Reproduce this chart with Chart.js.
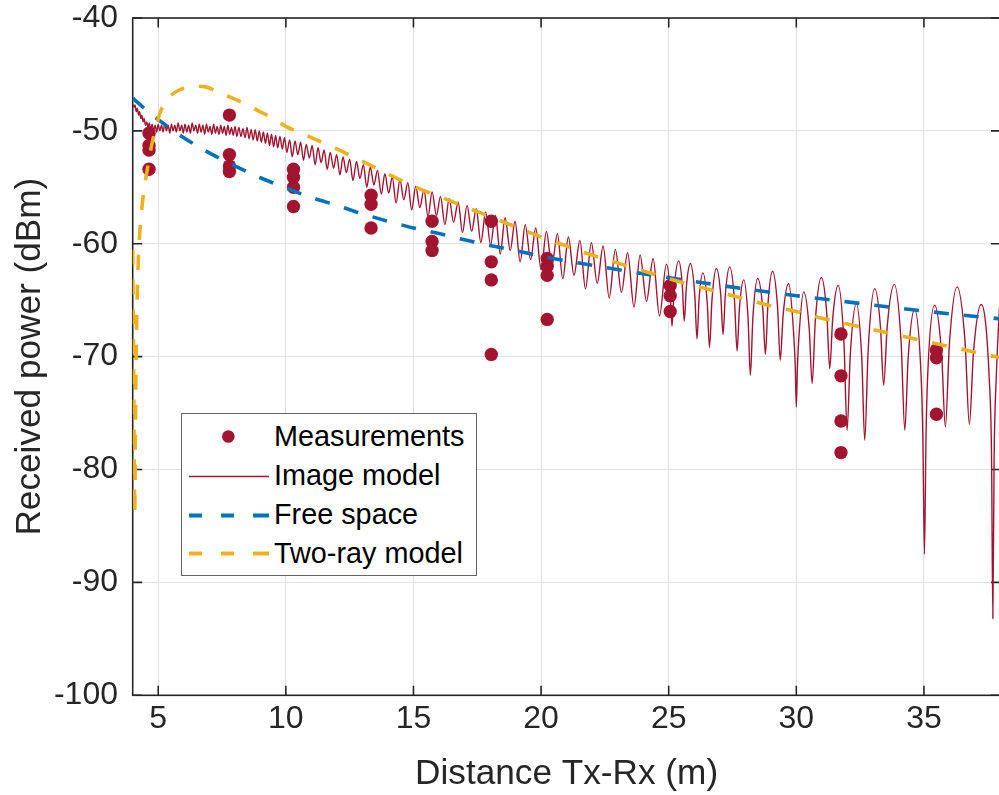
<!DOCTYPE html>
<html>
<head>
<meta charset="utf-8">
<script src="https://cdn.jsdelivr.net/npm/chart.js@4.4.1/dist/chart.umd.min.js"></script>
<style>
  html, body { margin: 0; padding: 0; background: #fff; overflow: hidden; width: 999px; height: 795px; }
  #wrap { position: absolute; left: 0; top: 0; width: 1002px; height: 795px; }
  #legend {
    position: absolute; left: 181px; top: 413px; width: 296px; height: 163px;
    box-sizing: border-box; border: 1px solid #666; background: #fff;
    font-family: "Liberation Sans", Arial, sans-serif; font-size: 28.8px; color: #000;
  }
  #legend .row { position: absolute; left: 0; width: 290px; height: 39px; }
  #legend .row svg { position: absolute; left: 0; top: 0; }
  #legend .row span { position: absolute; left: 92px; top: 0; line-height: 39px; white-space: nowrap; }
</style>
</head>
<body>
<div id="wrap"><canvas id="c" width="1002" height="795"></canvas></div>
<div id="legend">
  <div class="row" style="top:3.2px">
    <svg width="92" height="39"><circle cx="46.3" cy="19.5" r="6.3" fill="#A2142F"/></svg>
    <span>Measurements</span>
  </div>
  <div class="row" style="top:41.5px">
    <svg width="92" height="39"><line x1="7" y1="20.5" x2="87" y2="20.5" stroke="#A2142F" stroke-width="1.4"/></svg>
    <span>Image model</span>
  </div>
  <div class="row" style="top:80.5px">
    <svg width="92" height="39">
      <line x1="7" y1="20.5" x2="20" y2="20.5" stroke="#0072BD" stroke-width="4"/>
      <line x1="39" y1="20.5" x2="52" y2="20.5" stroke="#0072BD" stroke-width="4"/>
      <line x1="71" y1="20.5" x2="87" y2="20.5" stroke="#0072BD" stroke-width="4"/>
    </svg>
    <span>Free space</span>
  </div>
  <div class="row" style="top:119.8px">
    <svg width="92" height="39">
      <line x1="7" y1="19.5" x2="20" y2="19.5" stroke="#EDB120" stroke-width="4"/>
      <line x1="39" y1="19.5" x2="52" y2="19.5" stroke="#EDB120" stroke-width="4"/>
      <line x1="71" y1="19.5" x2="87" y2="19.5" stroke="#EDB120" stroke-width="4"/>
    </svg>
    <span>Two-ray model</span>
  </div>
</div>
<script>
// Axis ticks
const xTicks = [5, 10, 15, 20, 25, 30, 35];
const yTicks = [-100, -90, -80, -70, -60, -50, -40];

// Measured received power (dBm) at each Tx-Rx distance (m)
const measX = [4.64, 4.64, 4.64, 4.64,
               7.79, 7.79, 7.79, 7.79,
               10.30, 10.30, 10.30, 10.30,
               13.34, 13.34, 13.34,
               15.73, 15.73, 15.73,
               18.05, 18.05, 18.05, 18.05,
               20.24, 20.24, 20.24, 20.24,
               25.06, 25.06, 25.06,
               31.75, 31.75, 31.75, 31.75,
               35.49, 35.49, 35.49];
const measY = [-50.2, -51.3, -51.7, -53.4,
               -48.6, -52.1, -53.1, -53.6,
               -53.4, -54.1, -55.0, -56.7,
               -55.7, -56.5, -58.6,
               -58.0, -59.8, -60.6,
               -58.0, -61.6, -63.2, -69.8,
               -61.3, -62.0, -62.8, -66.7,
               -63.7, -64.6, -66.0,
               -68.0, -71.7, -75.7, -78.5,
               -69.4, -70.1, -75.1];

// Image model: received power along the path
const imgX = [
  4.00, 4.05, 4.09, 4.14, 4.18, 4.23, 4.27, 4.32, 4.36, 4.41, 4.45, 4.50, 4.55, 4.60, 4.65, 4.70,
  4.76, 4.82, 4.88, 4.94, 5.00, 5.06, 5.13, 5.19, 5.26, 5.32, 5.39, 5.45, 5.52, 5.58, 5.65, 5.71,
  5.78, 5.85, 5.92, 5.98, 6.05, 6.12, 6.19, 6.26, 6.33, 6.40, 6.47, 6.54, 6.61, 6.68, 6.75, 6.82,
  6.89, 6.96, 7.03, 7.10, 7.17, 7.24, 7.31, 7.38, 7.45, 7.52, 7.59, 7.66, 7.73, 7.80, 7.87, 7.94,
  8.01, 8.08, 8.16, 8.24, 8.32, 8.40, 8.48, 8.56, 8.64, 8.72, 8.80, 8.88, 8.96, 9.04, 9.12, 9.20,
  9.28, 9.36, 9.44, 9.52, 9.60, 9.68, 9.77, 9.86, 9.95,
  10.04, 10.15, 10.25, 10.36, 10.47, 10.58, 10.69, 10.80, 10.92, 11.03, 11.15, 11.26, 11.38, 11.50,
  11.62, 11.74, 11.87, 11.99, 12.12, 12.24, 12.37, 12.50, 12.63, 12.77, 12.90, 13.04, 13.17, 13.31,
  13.45, 13.59, 13.74, 13.88, 14.03, 14.17, 14.32, 14.47, 14.62, 14.78, 14.93, 15.09, 15.25, 15.41,
  15.57, 15.73, 15.90, 16.06, 16.23, 16.40, 16.57, 16.75, 16.92, 17.10, 17.28, 17.46, 17.64, 17.83,
  18.02, 18.21, 18.40, 18.59, 18.79, 18.98, 19.18, 19.38, 19.59, 19.79, 20.00, 20.21, 20.42, 20.64,
  20.85, 21.07, 21.29, 21.52, 21.74, 21.97, 22.20, 22.43, 22.67, 22.91, 23.15, 23.39, 23.64, 23.88,
  24.13, 24.39, 24.64, 24.91,
  25.053, 25.13, 25.22, 25.39, 25.533, 25.61, 25.694, 25.85, 26.019, 26.11, 26.19, 26.34,
  26.509, 26.60, 26.695, 26.87, 27.039, 27.13, 27.221, 27.39, 27.578, 27.68, 27.771, 27.94,
  28.109, 28.20, 28.30, 28.49, 28.685, 28.79, 28.888, 29.07, 29.265, 29.37, 29.486, 29.70,
  29.895, 29.96, 30.00, 30.04, 30.10, 30.29, 30.505, 30.62, 30.746, 30.98, 31.195, 31.31, 31.426, 31.64,
  31.868, 31.99, 32.116, 32.35, 32.565, 32.68, 32.817, 33.07, 33.298, 33.42, 33.567, 33.84,
  34.107, 34.25, 34.383, 34.63, 34.90, 34.96, 35.02, 35.08, 35.14, 35.42, 35.693, 35.84, 36.001, 36.30,
  36.612, 36.78, 36.941, 37.24, 37.56, 37.65, 37.70, 37.75, 37.84, 38.00
];
const imgY = [
  -47.6, -47.9, -47.7, -48.3, -48.0, -48.6, -48.3, -48.9, -48.6, -49.2, -48.9, -49.5, -49.2, -49.7, -49.3, -49.9,
  -49.4, -50.0, -49.5, -50.1, -49.4, -50.0, -49.5, -50.1, -49.3, -50.0, -49.5, -50.2, -49.4, -50.0, -49.5, -50.1,
  -49.3, -50.0, -49.5, -50.2, -49.4, -50.1, -49.5, -50.2, -49.3, -50.0, -49.5, -50.2, -49.4, -50.1, -49.5, -50.3,
  -49.4, -50.1, -49.6, -50.3, -49.4, -50.2, -49.6, -50.3, -49.5, -50.2, -49.6, -50.4, -49.5, -50.3, -49.7, -50.4,
  -49.6, -50.5, -49.7, -50.5, -49.8, -50.6, -49.7, -50.7, -49.9, -50.8, -49.9, -50.9, -50.0, -51.0, -50.1, -51.1,
  -50.2, -51.3, -50.3, -51.4, -50.4, -51.5, -50.5, -51.6, -50.6,
  -51.9, -50.8, -52.3, -50.9, -52.1, -51.0, -52.6, -51.2, -52.4, -51.3, -53.0, -51.5, -52.8, -51.7,
  -53.4, -51.9, -53.3, -52.1, -53.9, -52.3, -53.7, -52.5, -54.4, -52.7, -54.2, -53.0, -55.0, -53.2,
  -54.8, -53.5, -55.6, -53.8, -55.5, -54.1, -56.4, -54.3, -56.1, -54.6, -57.0, -54.9, -56.8, -55.2,
  -57.6, -55.4, -57.5, -55.8, -58.3, -56.0, -58.1, -56.3, -59.0, -56.6, -58.9, -56.9, -59.9, -57.2,
  -60.1, -57.5, -60.9, -57.7, -60.6, -58.0, -61.6, -58.3, -61.4, -58.6, -62.3, -58.9, -62.0, -59.1,
  -63.1, -59.4, -62.8, -59.7, -64.0, -59.9, -63.5, -60.2, -64.8, -60.5, -64.3, -60.8, -65.6, -61.0,
  -65.1, -61.3, -66.4, -61.8,
  -64.0, -67.3, -63.83, -61.52, -63.65, -66.84, -63.79, -61.75, -64.42, -68.43, -64.92, -62.58,
  -65.22, -69.19, -64.99, -62.19, -64.53, -68.04, -64.45, -62.05, -65.03, -69.5, -65.72, -63.2,
  -66.58, -71.65, -66.51, -63.08, -65.76, -69.79, -65.37, -62.43, -65.58, -70.3, -66.23, -63.52,
  -67.9, -71.0, -74.46, -71.2, -68.34, -64.26, -67.51, -72.38, -66.75, -62.99, -66.22, -71.06, -66.63, -63.67,
  -68.81, -76.52, -69.79, -65.3, -70.14, -77.4, -69.34, -63.97, -67.4, -72.54, -67.18, -63.6,
  -68.77, -76.52, -70.1, -65.82, -72.3, -77.5, -87.5, -77.3, -72.06, -65.44, -69.76, -76.23, -68.78, -63.82,
  -68.69, -75.99, -69.62, -65.38, -72.0, -79.0, -93.2, -79.0, -71.5, -64.0
];

// Free-space path loss model
const freeX = [4, 4.5, 5, 6, 7, 8, 9, 10, 11, 12, 13, 14, 15, 16, 17, 18, 19, 20, 22, 24, 26, 28, 30, 32, 34, 36, 38];
const freeY = [-47.1, -48.1, -49.0, -50.6, -51.95, -53.1, -54.15, -55.05, -55.9, -56.6, -57.35, -58.0, -58.6,
               -59.1, -59.65, -60.15, -60.6, -61.1, -61.9, -62.65, -63.35, -64.0, -64.6, -65.15, -65.7, -66.2, -66.65];

// Two-ray ground reflection model
const twoX = [4.00, 4.02, 4.04, 4.06, 4.08, 4.10, 4.13, 4.17, 4.22, 4.29, 4.38, 4.47, 4.58, 4.74, 4.90,
              5.07, 5.30, 5.53, 5.80, 6.05, 6.45, 6.85, 7.20, 7.70, 8.40, 8.90, 9.50,
              10, 11, 12, 13, 14, 15, 16, 17, 18, 19, 20, 21, 22, 23, 24, 25, 26, 27, 28, 29, 30,
              31, 32, 33, 34, 35, 36, 37, 38];
const twoY = [-60.5, -66.0, -72.0, -78.5, -84.0, -78.0, -71.0, -65.5, -61.5, -58.6, -56.4, -54.8, -53.3, -51.3, -49.8,
              -48.4, -47.4, -46.8, -46.4, -46.2, -46.05, -46.1, -46.4, -46.9, -47.6, -48.2, -48.9,
              -49.6, -50.6, -51.6, -52.7, -53.8, -54.9, -55.8, -56.7, -57.6, -58.5, -59.4, -60.2, -61.0, -61.7,
              -62.4, -63.1, -63.7, -64.3, -64.9, -65.5, -66.0, -66.6, -67.1, -67.6, -68.1, -68.6, -69.1, -69.6, -70.1];

const pts = (xs, ys) => xs.map((x, i) => ({ x: x, y: ys[i] }));

const INK = '#262626';
const FONT = '"Liberation Sans", Arial, sans-serif';
Chart.defaults.font.family = FONT;
Chart.defaults.color = INK;

// Axes box with inward tick marks on all four sides
const boxFrame = {
  id: 'boxFrame',
  beforeDatasetsDraw(chart) {
    const { ctx, chartArea: a, scales: { x, y } } = chart;
    const len = 9.5;
    ctx.save();
    ctx.strokeStyle = INK;
    ctx.lineWidth = 1.6;
    ctx.beginPath();
    xTicks.forEach(v => {
      const px = x.getPixelForValue(v);
      ctx.moveTo(px, a.bottom); ctx.lineTo(px, a.bottom - len);
      ctx.moveTo(px, a.top); ctx.lineTo(px, a.top + len);
    });
    yTicks.forEach(v => {
      const py = y.getPixelForValue(v);
      ctx.moveTo(a.left, py); ctx.lineTo(a.left + len, py);
      ctx.moveTo(a.right, py); ctx.lineTo(a.right - len, py);
    });
    ctx.stroke();
    ctx.strokeRect(a.left, a.top, a.right - a.left, a.bottom - a.top);
    ctx.restore();
  }
};

new Chart(document.getElementById('c'), {
  type: 'line',
  data: {
    datasets: [
      { label: 'Two-ray model', data: pts(twoX, twoY), borderColor: '#EDB120', borderWidth: 3.6,
        borderDash: [15, 15], pointRadius: 0, cubicInterpolationMode: 'monotone', fill: false, order: 0 },
      { label: 'Free space', data: pts(freeX, freeY), borderColor: '#0072BD', borderWidth: 3.6,
        borderDash: [15, 15], pointRadius: 0, cubicInterpolationMode: 'monotone', fill: false, order: 1 },
      { label: 'Image model', data: pts(imgX, imgY), borderColor: '#A2142F', borderWidth: 1.4,
        pointRadius: 0, cubicInterpolationMode: 'monotone', fill: false, order: 2 },
      { label: 'Measurements', data: pts(measX, measY), showLine: false, pointRadius: 6.7,
        pointBackgroundColor: '#A2142F', pointBorderWidth: 0, borderColor: '#A2142F', order: 3 }
    ]
  },
  options: {
    responsive: false,
    animation: false,
    devicePixelRatio: 1,
    events: [],
    layout: { autoPadding: false, padding: { left: 0, top: 18, right: 1.5, bottom: 0 } },
    plugins: { legend: { display: false }, tooltip: { enabled: false } },
    scales: {
      x: {
        type: 'linear', min: 4, max: 38,
        afterBuildTicks: s => { s.ticks = xTicks.map(v => ({ value: v })); },
        afterFit: s => { s.height = 99.7; },
        grid: { color: '#dfdfdf', lineWidth: 1, drawTicks: false },
        border: { display: false },
        ticks: { padding: 4.5, color: INK, font: { size: 32 }, maxRotation: 0, callback: v => String(v) },
        title: { display: true, text: 'Distance Tx-Rx (m)', color: INK, font: { size: 35.2 },
                 padding: { top: 0, bottom: 0 } }
      },
      y: {
        type: 'linear', min: -100, max: -40,
        afterBuildTicks: s => { s.ticks = yTicks.map(v => ({ value: v })); },
        afterFit: s => { s.width = 132.7; },
        grid: { color: '#dfdfdf', lineWidth: 1, drawTicks: false },
        border: { display: false },
        ticks: { padding: 14.7, color: INK, font: { size: 32, lineHeight: 0.2 }, callback: v => String(v) },
        title: { display: true, text: 'Received power (dBm)', color: INK, font: { size: 35.2 },
                 padding: { top: 9, bottom: 0 } }
      }
    }
  },
  plugins: [boxFrame]
});
</script>
</body>
</html>
